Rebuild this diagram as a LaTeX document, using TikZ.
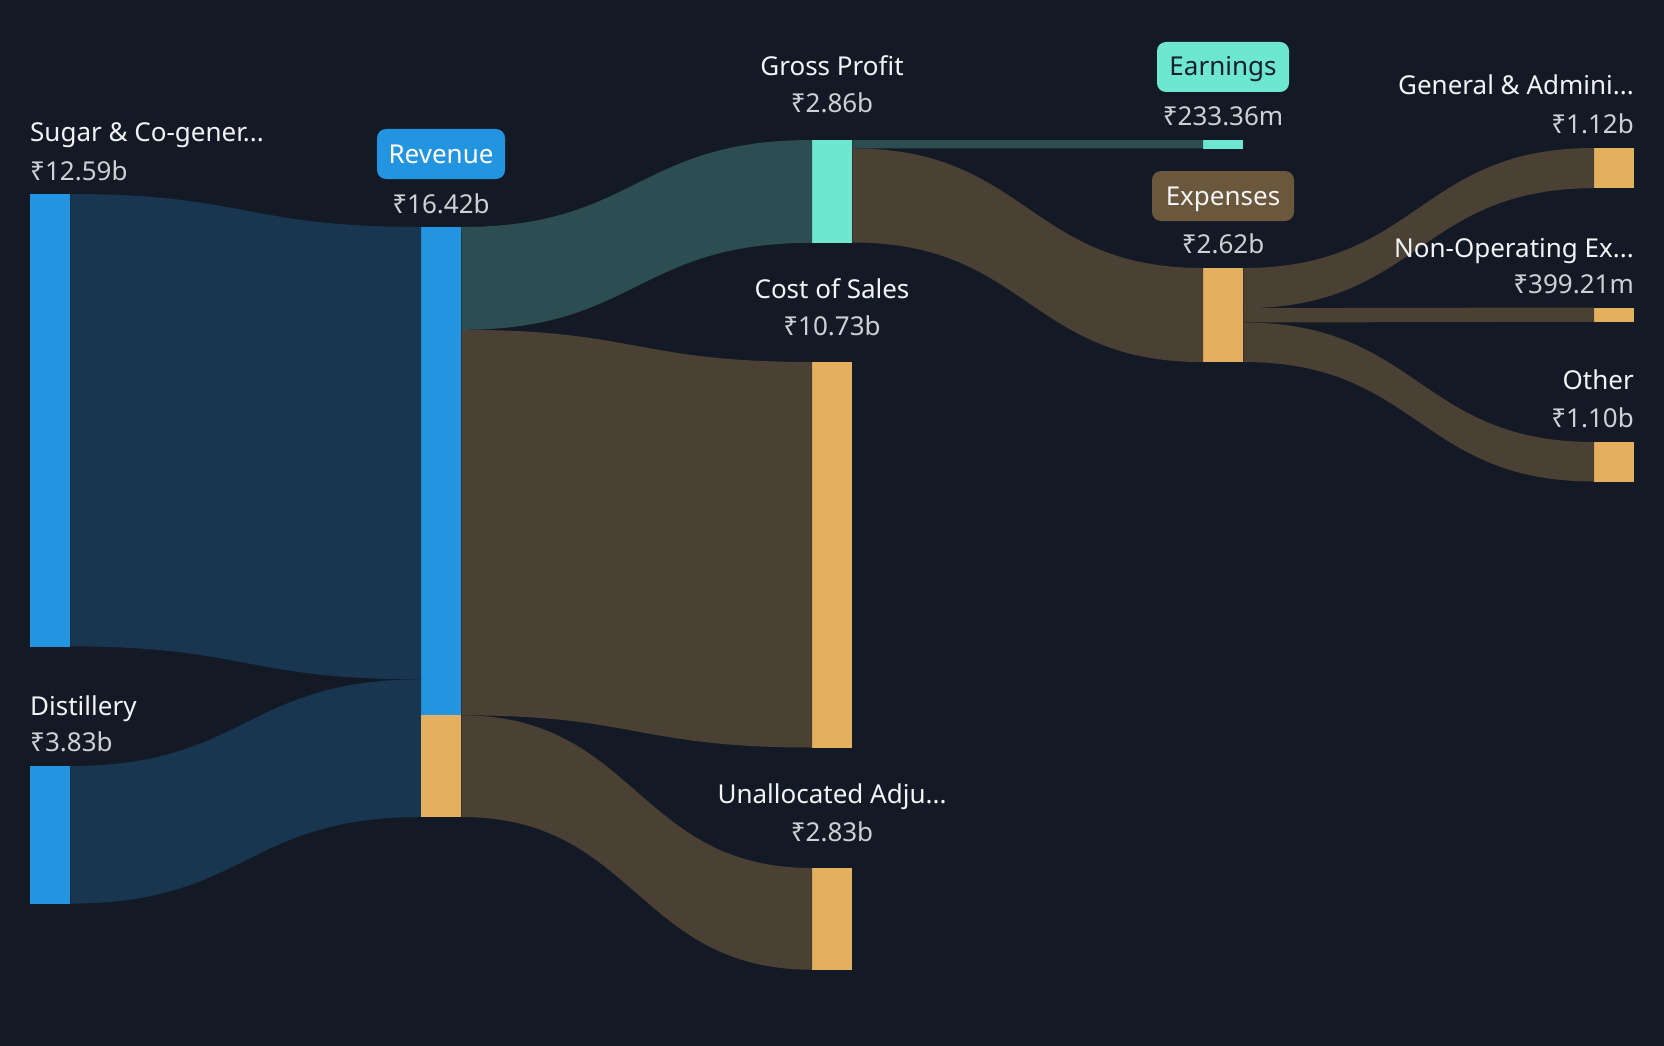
\documentclass[tikz,border=0pt]{standalone}
\usepackage{fontspec}
\setmainfont{Noto Sans}
\usetikzlibrary{calc}
\definecolor{bg}{HTML}{141A25}
\definecolor{blueflow}{HTML}{183650}
\definecolor{bluebar}{HTML}{2394E0}
\definecolor{tealbar}{HTML}{6EE7D1}
\definecolor{tealflow}{HTML}{2C4E52}
\definecolor{orangebar}{HTML}{E4AF5F}
\definecolor{brownflow}{HTML}{4A4033}
\definecolor{expbox}{HTML}{6A573C}
\definecolor{nametext}{HTML}{F2F3F5}
\definecolor{valtext}{HTML}{CDD1D6}
\definecolor{darktext}{HTML}{15202B}
% flow: source node, source offset, target node, target offset, thickness, colour
\newcommand\sflow[6]{%
 \fill[#6] let \p1=($(#1.north east)+(0,#2)$), \p2=($(#3.north west)+(0,#4)$),
 \p3=($(#3.north west)+(0,#4+#5)$), \p4=($(#1.north east)+(0,#2+#5)$),
 \n1={0.5*(\x1+\x2)} in
 (\p1) .. controls (\n1,\y1) and (\n1,\y2) .. (\p2) -- (\p3)
 .. controls (\n1,\y3) and (\n1,\y4) .. (\p4) -- cycle;}
\begin{document}
\begin{tikzpicture}[x=1pt,y=-1pt,
 barbox/.style={rectangle, inner sep=0pt, minimum width=40pt, anchor=north west, draw=none},
 lblname/.style={font=\fontsize{26}{30}\selectfont, text=nametext, inner sep=0pt},
 lblval/.style={font=\fontsize{26}{30}\selectfont, text=valtext, inner sep=0pt},
 pill/.style={rectangle, rounded corners=9pt, inner sep=0pt, text height=18pt, text depth=0pt,
   minimum height=50pt, font=\fontsize{26}{30}\selectfont}]
\fill[bg] (0,0) rectangle (1664,1046);
\useasboundingbox (0,0) rectangle (1664,1046);

% bars
\node[barbox, fill=bluebar, minimum height=452.4pt] (sugar) at (30,194) {};
\node[barbox, fill=bluebar, minimum height=137.6pt] (distillery) at (30,766) {};
\node[barbox, fill=bluebar, minimum height=590pt] (revenue) at (421,227) {};
\node[barbox, fill=tealbar, minimum height=102.8pt] (gross) at (812,140) {};
\node[barbox, fill=orangebar, minimum height=385.5pt] (cost) at (812,362) {};
\node[barbox, fill=orangebar, minimum height=101.7pt] (unalloc) at (812,868) {};
\node[barbox, fill=tealbar, minimum height=8.4pt] (earnings) at (1203,140) {};
\node[barbox, fill=orangebar, minimum height=94.1pt] (expenses) at (1203,268) {};
\node[barbox, fill=orangebar, minimum height=40.2pt] (ga) at (1594,148) {};
\node[barbox, fill=orangebar, minimum height=14.3pt] (nonop) at (1594,307.5) {};
\node[barbox, fill=orangebar, minimum height=39.5pt] (other) at (1594,442) {};

% flows
\sflow{sugar}{0}{revenue}{0}{452.4}{blueflow}
\sflow{distillery}{0}{revenue}{452.4}{137.6}{blueflow}
\sflow{revenue}{0}{gross}{0}{102.8}{tealflow}
\sflow{revenue}{102.8}{cost}{0}{385.5}{brownflow}
\sflow{revenue}{488.3}{unalloc}{0}{101.7}{brownflow}
\sflow{gross}{0}{earnings}{0}{8.4}{tealflow}
\sflow{gross}{8.4}{expenses}{0}{94.1}{brownflow}
\sflow{expenses}{0}{ga}{0}{40.2}{brownflow}
\sflow{expenses}{40.2}{nonop}{0}{14.3}{brownflow}
\sflow{expenses}{54.5}{other}{0}{39.5}{brownflow}

% bottom part of the revenue bar
\fill[orangebar] ($(revenue.north west)+(0,488.3)$) rectangle (revenue.south east);

% labels
\node[lblname, anchor=base west] (sugarname) at (30,142) {Sugar \& Co-gener...};
\node[lblval, anchor=base west] (sugarval) at (30,180) {₹12.59b};
\node[lblname, anchor=base west] (distname) at (30,715) {Distillery};
\node[lblval, anchor=base west] (distval) at (30,751) {₹3.83b};
\node[pill, fill=bluebar, text=white, minimum width=128pt] (revname) at (441,154) {Revenue};
\node[lblval, anchor=base] (revval) at (441,213) {₹16.42b};
\node[lblname, anchor=base] (grossname) at (832,76) {Gross Profit};
\node[lblval, anchor=base] (grossval) at (832,113) {₹2.86b};
\node[lblname, anchor=base] (costname) at (832,298) {Cost of Sales};
\node[lblval, anchor=base] (costval) at (832,335) {₹10.73b};
\node[lblname, anchor=base] (unallocname) at (832,803) {Unallocated Adju...};
\node[lblval, anchor=base] (unallocval) at (832,841) {₹2.83b};
\node[pill, fill=tealbar, text=darktext, minimum width=132pt] (earnname) at (1223,67) {Earnings};
\node[lblval, anchor=base] (earnval) at (1223,126) {₹233.36m};
\node[pill, fill=expbox, text=nametext, minimum width=142pt] (expname) at (1223,196) {Expenses};
\node[lblval, anchor=base] (expval) at (1223,253) {₹2.62b};
\node[lblname, anchor=base east] (ganame) at (1634,95) {General \& Admini...};
\node[lblval, anchor=base east] (gaval) at (1634,133) {₹1.12b};
\node[lblname, anchor=base east] (nonopname) at (1634,257) {Non-Operating Ex...};
\node[lblval, anchor=base east] (nonopval) at (1634,293) {₹399.21m};
\node[lblname, anchor=base east] (othername) at (1634,389) {Other};
\node[lblval, anchor=base east] (otherval) at (1634,427) {₹1.10b};
\end{tikzpicture}
\end{document}
